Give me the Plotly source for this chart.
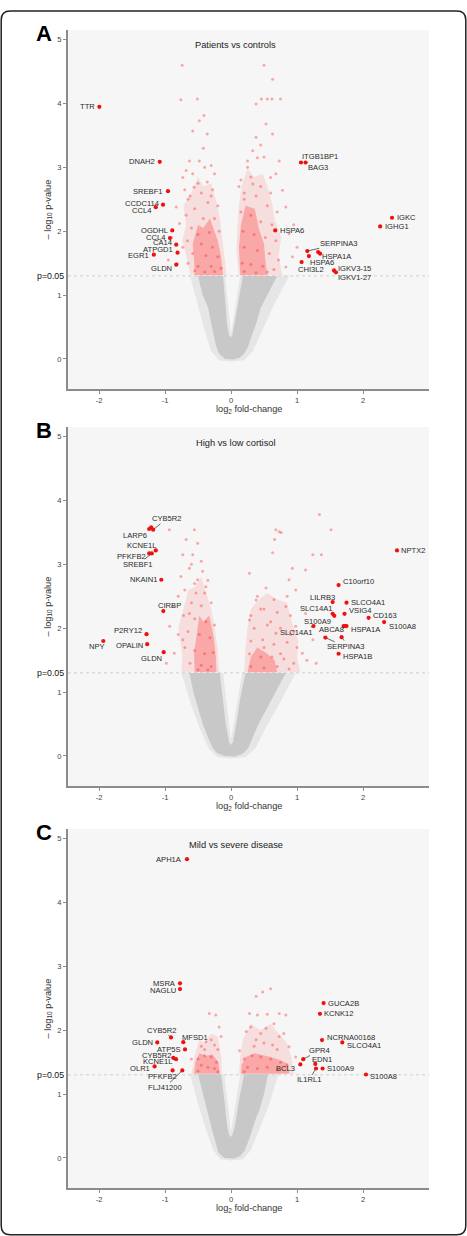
import math
import plotly.graph_objects as go

W, H = 467, 1236
FONT = "Liberation Sans, Arial, sans-serif"

# ----------------------------- DATA -----------------------------
# Panel A: Patients vs controls (labelled genes)
a_genes = ["TTR", "DNAH2", "SREBF1", "CCDC114", "CCL4", "OGDHL", "CCL4", "CA14", "ATPGD1", "EGR1", "GLDN",
           "HSPA6", "ITGB1BP1", "BAG3", "IGKC", "IGHG1", "SERPINA3", "HSPA1A", "HSPA1A", "HSPA6", "CHI3L2",
           "IGKV3-15", "IGKV1-27"]
a_lfc = [-1.995, -1.08, -0.955, -1.03, -1.14, -0.89, -0.925, -0.83, -0.81, -1.17, -0.83,
         0.67, 1.06, 1.13, 2.44, 2.26, 1.156, 1.32, 1.35, 1.18, 1.07, 1.56, 1.59]
a_logp = [3.947, 3.087, 2.627, 2.415, 2.377, 2.013, 1.892, 1.789, 1.664, 1.633, 1.476,
          2.013, 3.076, 3.076, 2.211, 2.075, 1.689, 1.673, 1.648, 1.611, 1.517, 1.387, 1.356]
# Panel A: other significant genes
a_sig_x = [-0.74, -0.76, -0.51, -0.41, -0.48, -0.58, -0.36, -0.63, -0.48, -0.30, -0.73, -0.36, -0.56, -0.83,
           -0.78, -0.73, -0.81, -0.68, -0.42, -0.25, -0.65, -0.30, -0.90, -0.95,
           -0.62, -0.45, -0.35, -0.55, -0.68, -0.42, -0.25, -0.60, -0.50, -0.33, -0.18, -0.66, -0.45, -0.28,
           -0.58, -0.38, -0.20, -0.65, -0.50, -0.30, -0.15, -0.55, -0.40, -0.25, -0.70, -0.50, -0.28, -0.40,
           -0.58, -0.20,
           0.50, 0.63, 0.46, 0.55, 0.62, 0.75, 0.38, 0.53, 0.38, 0.63, 0.33, 0.73, 0.50, 0.60, 0.33, 0.78,
           0.83, 0.88, 0.93, 0.83, 0.25, 0.45, 0.68, 0.20, 0.95, 1.00,
           0.15, 0.30, 0.45, 0.60, 0.20, 0.38, 0.55, 0.70, 0.15, 0.30, 0.45, 0.62, 0.18, 0.35, 0.52, 0.68,
           0.20, 0.40, 0.58, 0.72, 0.17, 0.30, 0.48, 0.65, 0.20, 0.38, 0.55, 0.25, 0.40, 0.12]
a_sig_y = [4.60, 4.06, 4.07, 3.81, 3.73, 3.57, 3.52, 3.10, 3.10, 3.03, 2.84, 2.77, 2.69, 2.38,
           2.12, 1.75, 1.49, 2.95, 3.30, 2.90, 2.50, 2.55, 1.90, 1.55,
           2.55, 2.60, 2.45, 2.35, 2.25, 2.20, 2.20, 2.05, 1.95, 1.98, 2.00, 1.85, 1.80, 1.75,
           1.65, 1.62, 1.60, 1.50, 1.45, 1.45, 1.42, 1.38, 1.36, 1.37, 2.65, 2.75, 2.65, 3.00,
           2.90, 2.40,
           4.60, 4.38, 4.07, 4.07, 4.07, 4.07, 3.99, 3.68, 3.47, 3.52, 3.26, 3.10, 3.16, 2.84, 2.74, 2.64,
           2.38, 1.96, 1.60, 1.44, 3.00, 3.35, 2.90, 2.60, 2.10, 1.75,
           2.80, 2.85, 2.70, 2.60, 2.50, 2.55, 2.40, 2.30, 2.30, 2.25, 2.15, 2.10, 2.00, 1.95, 1.90, 1.85,
           1.75, 1.70, 1.65, 1.55, 1.50, 1.48, 1.45, 1.40, 1.37, 1.35, 1.36, 3.10, 3.15, 2.70]
# Panel A: outlines of the dense clouds
a_ns_x = [-0.50, -0.43, -0.35, -0.30, -0.27, -0.23, -0.18, -0.09, 0.04, 0.13, 0.20, 0.26, 0.32, 0.38, 0.45, 0.55,
          0.65, 0.70, 0.18, 0.12, 0.06, 0.02, 0.00, -0.03, -0.06, -0.09, -0.12]
a_ns_y = [1.30, 1.00, 0.81, 0.55, 0.40, 0.22, 0.08, 0.00, -0.01, 0.02, 0.08, 0.20, 0.38, 0.55, 0.80, 1.00,
          1.20, 1.30, 1.30, 0.95, 0.55, 0.37, 0.34, 0.37, 0.55, 0.95, 1.30]
a_halo_x = [-0.62, -0.50, -0.40, -0.30, -0.18, 0.00, 0.20, 0.33, 0.48, 0.65, 0.88, 0.14, 0.00, -0.09]
a_halo_y = [1.30, 0.85, 0.45, 0.12, -0.02, -0.04, -0.02, 0.12, 0.45, 0.85, 1.30, 1.30, 0.40, 1.30]
a_redL_x = [-0.62, -0.07, -0.10, -0.14, -0.17, -0.22, -0.30, -0.42, -0.50, -0.60, -0.72, -0.68, -0.74, -0.66]
a_redL_y = [1.31, 1.31, 1.60, 1.90, 2.20, 2.45, 2.75, 2.70, 2.85, 2.60, 2.40, 2.10, 1.85, 1.55]
a_redR_x = [0.12, 0.78, 0.72, 0.76, 0.66, 0.62, 0.55, 0.48, 0.35, 0.25, 0.16, 0.12, 0.10, 0.08]
a_redR_y = [1.31, 1.31, 1.60, 1.90, 2.20, 2.45, 2.70, 2.90, 2.85, 2.98, 2.70, 2.40, 2.10, 1.70]
a_coreL_x = [-0.55, -0.12, -0.15, -0.20, -0.32, -0.42, -0.50, -0.58, -0.56]
a_coreL_y = [1.31, 1.31, 1.60, 1.85, 2.20, 2.05, 2.10, 1.80, 1.55]
a_coreR_x = [0.14, 0.55, 0.52, 0.50, 0.42, 0.36, 0.22, 0.15, 0.12]
a_coreR_y = [1.31, 1.31, 1.55, 1.80, 2.05, 2.35, 2.40, 2.10, 1.75]

# Panel B: High vs low cortisol
b_genes = ["CYB5R2", "LARP6", "CYB5R2", "KCNE1L", "PFKFB2", "SREBF1", "NKAIN1", "CIRBP", "P2RY12", "NPY",
           "OPALIN", "GLDN", "NPTX2", "C10orf10", "LILRB3", "SLCO4A1", "VSIG4", "SLC14A1", "S100A9", "CD163",
           "S100A8", "SLC14A1", "ABCA8", "HSPA1A", "HSPA1A", "SERPINA3", "SERPINA3", "HSPA1B"]
b_lfc = [-1.18, -1.24, -1.21, -1.14, -1.24, -1.20, -1.056, -1.026, -1.28, -1.935, -1.27, -1.02,
         2.515, 1.63, 1.54, 1.75, 1.72, 1.54, 1.565, 2.085, 2.32, 1.25, 1.706, 1.73, 1.75, 1.43, 1.676, 1.63]
b_logp = [3.542, 3.553, 3.578, 3.218, 3.171, 3.171, 2.759, 2.268, 1.907, 1.80, 1.75, 1.625,
          3.218, 2.675, 2.41, 2.40, 2.226, 2.226, 2.194, 2.163, 2.096, 2.033, 2.033, 2.033, 2.033, 1.854, 1.86, 1.60]
b_sig_x = [-0.935, -0.555, -0.68, -0.505, -0.73, -0.58, -0.63, -0.43, -0.76, -0.505, -0.38, -0.88, -0.53, -0.63,
           -0.93, -0.73, -0.86, -0.45, -0.80, -0.98,
           -0.70, -0.55, -0.40, -0.60, -0.45, -0.30, -0.72, -0.55, -0.38, -0.25, -0.65, -0.48, -0.32, -0.70,
           -0.55, -0.40, -0.27, -0.62, -0.45, -0.30, -0.50, -0.35, -0.80, -0.60, -0.35,
           1.34, 1.515, 0.73, 0.66, 0.63, 1.24, 1.37, 0.93, 1.13, 0.28, 0.88, 0.53, 0.98, 0.38, 0.83, 1.13,
           0.28, 0.98, 0.68, 1.24, 1.08, 1.29, 0.68, 0.76, 0.45, 0.60, 0.90, 0.50, 0.75, 1.15,
           0.30, 0.50, 0.70, 0.90, 0.35, 0.55, 0.75, 0.95, 0.30, 0.48, 0.65, 0.85, 1.00, 0.28, 0.45, 0.62,
           0.80, 0.95, 0.30, 0.50, 0.70, 0.88, 0.40, 0.65, 0.85]
b_sig_y = [3.54, 3.54, 3.39, 3.33, 3.15, 3.15, 2.94, 2.89, 2.81, 2.76, 2.65, 2.34, 2.55, 2.23,
           2.03, 1.82, 1.61, 3.05, 2.50, 1.45,
           2.60, 2.70, 2.55, 2.40, 2.35, 2.40, 2.20, 2.15, 2.10, 2.05, 1.95, 1.90, 1.85, 1.70,
           1.65, 1.60, 1.62, 1.45, 1.42, 1.40, 1.35, 1.35, 1.90, 3.00, 2.75,
           3.78, 3.54, 3.51, 3.39, 3.18, 3.15, 3.15, 2.94, 2.91, 2.86, 2.76, 2.63, 2.60, 2.44, 2.34, 2.23,
           2.13, 2.03, 1.92, 1.82, 1.61, 1.45, 3.54, 3.50, 2.30, 2.10, 1.90, 1.70, 1.60, 1.50,
           2.20, 2.30, 2.25, 2.20, 2.00, 2.05, 2.00, 1.95, 1.80, 1.82, 1.75, 1.78, 1.70, 1.60, 1.55, 1.55,
           1.52, 1.45, 1.40, 1.38, 1.40, 1.36, 2.50, 2.45, 2.50]
b_ns_x = [-0.63, -0.57, -0.50, -0.43, -0.36, -0.29, -0.22, -0.10, 0.05, 0.17, 0.26, 0.33, 0.42, 0.52, 0.63, 0.74,
          0.83, 0.22, 0.14, 0.08, 0.03, 0.00, -0.03, -0.08, -0.12, -0.17]
b_ns_y = [1.30, 1.00, 0.75, 0.51, 0.32, 0.15, 0.05, 0.00, -0.01, 0.03, 0.12, 0.28, 0.51, 0.70, 0.92, 1.12,
          1.30, 1.30, 0.90, 0.50, 0.22, 0.17, 0.22, 0.50, 0.90, 1.30]
b_halo_x = [-0.75, -0.62, -0.48, -0.34, -0.20, 0.00, 0.22, 0.37, 0.53, 0.75, 0.98, 0.17, 0.00, -0.12]
b_halo_y = [1.30, 0.85, 0.45, 0.12, -0.02, -0.04, -0.02, 0.12, 0.45, 0.85, 1.30, 1.30, 0.25, 1.30]
b_redL_x = [-0.75, -0.18, -0.20, -0.24, -0.30, -0.38, -0.45, -0.55, -0.65, -0.72, -0.80, -0.74]
b_redL_y = [1.31, 1.31, 1.65, 1.95, 2.30, 2.55, 2.80, 2.65, 2.60, 2.30, 2.00, 1.60]
b_redR_x = [0.20, 1.05, 1.00, 1.02, 0.92, 0.85, 0.70, 0.55, 0.42, 0.30, 0.25, 0.22]
b_redR_y = [1.31, 1.31, 1.55, 1.80, 2.10, 2.40, 2.45, 2.55, 2.45, 2.30, 2.00, 1.70]
b_coreL_x = [-0.55, -0.22, -0.23, -0.26, -0.33, -0.42, -0.48, -0.52, -0.56]
b_coreL_y = [1.31, 1.31, 1.55, 1.85, 2.20, 2.10, 2.20, 1.90, 1.60]
b_coreR_x = [0.25, 0.70, 0.66, 0.55, 0.40, 0.30]
b_coreR_y = [1.31, 1.31, 1.50, 1.60, 1.70, 1.55]

# Panel C: Mild vs severe disease
c_genes = ["APH1A", "MSRA", "NAGLU", "CYB5R2", "GLDN", "MFSD1", "ATP5S", "CYB5R2", "KCNE1L", "OLR1", "PFKFB2",
           "FLJ41200", "GUCA2B", "KCNK12", "NCRNA00168", "SLCO4A1", "GPR4", "BCL3", "EDN1", "IL1RL1", "S100A9",
           "S100A8"]
c_lfc = [-0.667, -0.773, -0.773, -0.909, -1.117, -0.723, -0.697, -0.874, -0.833, -1.158, -0.885, -0.738,
         1.403, 1.348, 1.379, 1.686, 1.095, 1.05, 1.277, 1.288, 1.388, 2.045]
c_logp = [4.677, 2.734, 2.644, 1.887, 1.809, 1.813, 1.699, 1.567, 1.547, 1.433, 1.370, 1.370,
          2.425, 2.257, 1.845, 1.809, 1.547, 1.464, 1.473, 1.401, 1.401, 1.307]
c_sig_x = [-0.33, -0.23, -0.18, -0.38, -0.25, -0.45, -0.60, -0.15,
           -0.50, -0.40, -0.30, -0.22, -0.45, -0.35, -0.25, -0.50, -0.20, -0.40, -0.30, -0.20,
           0.28, 0.40, 0.73, 0.83, 0.48, 0.60, 0.38, 0.23, 0.53, 0.73, 0.88, 0.38, 0.63, 0.98, 0.13, 0.30,
           0.65, 0.45,
           0.20, 0.32, 0.45, 0.60, 0.75, 0.85, 0.25, 0.40, 0.55, 0.70, 0.20, 0.50, 0.70, 0.35, 0.80, 0.55]
c_sig_y = [2.26, 2.24, 2.05, 1.82, 1.77, 1.75, 1.55, 1.90,
           1.55, 1.60, 1.58, 1.50, 1.45, 1.42, 1.40, 1.36, 1.35, 1.70, 1.85, 1.70,
           2.26, 2.24, 2.26, 2.24, 2.60, 2.65, 2.53, 1.98, 2.03, 1.90, 1.74, 1.85, 1.77, 1.58, 1.68, 2.05,
           2.10, 1.95,
           1.55, 1.60, 1.58, 1.55, 1.50, 1.45, 1.42, 1.40, 1.42, 1.38, 1.35, 1.80, 1.70, 1.75, 1.95, 2.25]
c_ns_x = [-0.50, -0.42, -0.35, -0.29, -0.24, -0.19, -0.10, 0.04, 0.14, 0.21, 0.27, 0.32, 0.37, 0.43, 0.50, 0.56,
          0.20, 0.12, 0.06, 0.02, 0.00, -0.03, -0.06, -0.10, -0.15]
c_ns_y = [1.31, 1.00, 0.70, 0.45, 0.25, 0.08, 0.00, -0.01, 0.03, 0.12, 0.28, 0.45, 0.60, 0.75, 1.00, 1.31,
          1.31, 0.90, 0.50, 0.36, 0.33, 0.36, 0.50, 0.90, 1.31]
c_halo_x = [-0.62, -0.50, -0.38, -0.27, -0.16, 0.00, 0.18, 0.30, 0.43, 0.58, 0.72, 0.14, 0.00, -0.10]
c_halo_y = [1.31, 0.85, 0.45, 0.12, -0.02, -0.04, -0.02, 0.12, 0.45, 0.85, 1.31, 1.31, 0.40, 1.31]
c_redL_x = [-0.60, -0.14, -0.15, -0.20, -0.30, -0.40, -0.48, -0.55]
c_redL_y = [1.32, 1.32, 1.60, 1.90, 1.95, 1.80, 1.85, 1.60]
c_redR_x = [0.12, 0.95, 0.92, 0.85, 0.72, 0.60, 0.45, 0.30, 0.18, 0.14]
c_redR_y = [1.32, 1.32, 1.55, 1.80, 1.95, 2.10, 2.00, 2.10, 1.85, 1.60]
c_coreL_x = [-0.56, -0.17, -0.19, -0.28, -0.38, -0.48, -0.54]
c_coreL_y = [1.32, 1.32, 1.50, 1.62, 1.60, 1.64, 1.50]
c_coreR_x = [0.15, 0.88, 0.86, 0.70, 0.52, 0.36, 0.22, 0.16]
c_coreR_y = [1.32, 1.32, 1.48, 1.55, 1.60, 1.64, 1.58, 1.45]

x_ticks = [-2, -1, 0, 1, 2]
x_ticktext = ["-2", "-1", "0", "1", "2"]
y_ticks = [0, 1, 2, 3, 4, 5]
p_threshold = 0.05
panel_titles = ["Patients vs controls", "High vs low cortisol", "Mild vs severe disease"]
panel_letters = ["A", "B", "C"]

# ------------------------- LABEL PLACEMENT (pixels) -------------------------
# ("l", dy): label left of dot; ("r", dy): right of dot; ("c", dx, dy): centred offset;
# ("a", dx, dy[, text]): offset with connector line; None: no label
a_place = [("l", 0), ("l", 0), ("l", 0), ("l", -1.5), ("l", 3), ("l", 0), ("l", -1), ("l", -2), ("l", -3),
           ("l", 0.5), ("l", 4), ("r", 0), ("c", 19.3, -6), ("c", 12.5, 4.7), ("r", 0), ("r", 0),
           ("a", 31.5, -7.4), ("c", 18.8, 4.0), None, ("c", 13.3, 6.0), ("c", 9.4, 7.6), ("r", -2.3),
           ("c", 18.5, 5.3)]
b_place = [("a", 13.5, -11), ("c", -14.5, 6), None, ("c", -13.7, -4.7), ("c", -17.2, 3), ("a", -13.5, 10.6),
           ("l", 0), ("c", 6.5, -5.6), ("l", -3.3), ("c", -6.3, 5.7), ("l", 1.4), ("c", -12, 6),
           ("r", 0), ("r", -3.6), ("c", -10.6, -5), ("r", 0), ("r", -3), ("c", -15.8, -5), ("c", -16.5, 6),
           ("r", -2), ("r", 4), ("a", -16.8, 6), ("c", -12, 3.7), None, ("r", 3.7), ("a", 20.3, 9.3),
           ("a", 4, 5.5, " "), ("r", 3)]
c_place = [("l", 0), ("l", 0), ("l", 1), ("a", -8.7, -7.3), ("l", 0), ("c", 11.5, -4.7), ("l", 0),
           ("c", -16.5, -2.6), ("a", -17.9, 2.6), ("l", 1.7), ("c", -10, 6.4), ("a", -17.5, 17),
           ("r", 0), ("r", 0), ("r", -2.6), ("r", 2.6), ("a", 16, -8.7), ("c", -15, 4.4), ("c", 6.5, -4.7),
           ("a", -6.9, 11.4), ("r", 0), ("r", 2)]

# ------------------------------ LAYOUT GEOMETRY ------------------------------
x_dom = [68 / W, 429 / W]
px_top = [30, 427, 829]
px_bot = [389, 786, 1188]
y_doms = [[1 - b / H, 1 - t / H] for t, b in zip(px_top, px_bot)]
X_RANGE = [-2.47, 3.0]
Y_RANGE = [-0.47, 5.15]

panels = [
    dict(genes=a_genes, x=a_lfc, y=a_logp, sx=a_sig_x, sy=a_sig_y, nsx=a_ns_x, nsy=a_ns_y,
         hx=a_halo_x, hy=a_halo_y, rl=(a_redL_x, a_redL_y), rr=(a_redR_x, a_redR_y),
         cl=(a_coreL_x, a_coreL_y), cr=(a_coreR_x, a_coreR_y), place=a_place),
    dict(genes=b_genes, x=b_lfc, y=b_logp, sx=b_sig_x, sy=b_sig_y, nsx=b_ns_x, nsy=b_ns_y,
         hx=b_halo_x, hy=b_halo_y, rl=(b_redL_x, b_redL_y), rr=(b_redR_x, b_redR_y),
         cl=(b_coreL_x, b_coreL_y), cr=(b_coreR_x, b_coreR_y), place=b_place),
    dict(genes=c_genes, x=c_lfc, y=c_logp, sx=c_sig_x, sy=c_sig_y, nsx=c_ns_x, nsy=c_ns_y,
         hx=c_halo_x, hy=c_halo_y, rl=(c_redL_x, c_redL_y), rr=(c_redR_x, c_redR_y),
         cl=(c_coreL_x, c_coreL_y), cr=(c_coreR_x, c_coreR_y), place=c_place),
]

fig = go.Figure()
annotations = []
shapes = []
LABEL_FONT = dict(family=FONT, size=7.6, color="#2a2a2a")
p_line = -math.log10(p_threshold)

for i, P in enumerate(panels):
    sfx = "" if i == 0 else str(i + 1)
    xr, yr = "x" + sfx, "y" + sfx

    def poly(xs, ys, color):
        fig.add_trace(go.Scatter(x=xs + [xs[0]], y=ys + [ys[0]], mode="lines", fill="toself",
                                 fillcolor=color, line=dict(width=0), hoverinfo="skip",
                                 showlegend=False, xaxis=xr, yaxis=yr))

    poly(P["hx"], P["hy"], "rgba(200,200,200,0.35)")
    poly(P["nsx"], P["nsy"], "rgba(198,198,198,0.95)")
    poly(P["rl"][0], P["rl"][1], "rgba(255,60,60,0.13)")
    poly(P["rr"][0], P["rr"][1], "rgba(255,60,60,0.13)")
    poly(P["cl"][0], P["cl"][1], "rgba(255,25,25,0.28)")
    poly(P["cr"][0], P["cr"][1], "rgba(255,25,25,0.28)")

    fig.add_trace(go.Scatter(x=P["sx"], y=P["sy"], mode="markers",
                             marker=dict(size=3, color="rgba(255,40,40,0.38)", line=dict(width=0)),
                             hoverinfo="skip", showlegend=False, xaxis=xr, yaxis=yr))
    fig.add_trace(go.Scatter(x=P["x"], y=P["y"], mode="markers", text=P["genes"],
                             marker=dict(size=4.2, color="#f01010", line=dict(width=0)),
                             showlegend=False, xaxis=xr, yaxis=yr))

    for g, gx, gy, pl in zip(P["genes"], P["x"], P["y"], P["place"]):
        if pl is None:
            continue
        kind = pl[0]
        base = dict(x=gx, y=gy, xref=xr, yref=yr, font=LABEL_FONT)
        if kind == "l":
            base.update(text=g, showarrow=False, xanchor="right", yanchor="middle", xshift=-2.5, yshift=-pl[1])
        elif kind == "r":
            base.update(text=g, showarrow=False, xanchor="left", yanchor="middle", xshift=2.5, yshift=-pl[1])
        elif kind == "c":
            base.update(text=g, showarrow=False, xanchor="center", yanchor="middle", xshift=pl[1], yshift=-pl[2])
        else:
            txt = pl[3] if len(pl) > 3 else g
            base.update(text=txt, showarrow=True, ax=pl[1], ay=pl[2], axref="pixel", ayref="pixel",
                        arrowhead=0, arrowwidth=0.8, arrowcolor="#444444", standoff=1.5, borderpad=0)
        annotations.append(base)

    # p = 0.05 reference line
    shapes.append(dict(type="line", xref=xr + " domain", yref=yr, x0=0, x1=1, y0=p_line, y1=p_line,
                       line=dict(color="#cfcfcf", width=1, dash="dot"), layer="below"))
    annotations.append(dict(x=66 / W, y=p_line, xref="paper", yref=yr, text="p=0.05", showarrow=False,
                            xanchor="right", yanchor="middle", font=dict(family=FONT, size=8.8, color="#111111")))

    top, bot = px_top[i], px_bot[i]
    annotations.append(dict(x=(68 + 429) / 2 / W - 0.027, y=1 - (top + 15.5) / H, xref="paper", yref="paper",
                            text=panel_titles[i], showarrow=False, xanchor="center", yanchor="middle",
                            font=dict(family=FONT, size=9.3, color="#222222")))
    annotations.append(dict(x=44 / W, y=1 - (top + 3.5) / H, xref="paper", yref="paper",
                            text="<b>" + panel_letters[i] + "</b>", showarrow=False, xanchor="center",
                            yanchor="middle", font=dict(family=FONT, size=22, color="#000000")))
    annotations.append(dict(x=48 / W, y=1 - (top + bot) / 2 / H, xref="paper", yref="paper",
                            text="– log<sub>10</sub> p-value", showarrow=False, textangle=-90,
                            xanchor="center", yanchor="middle", font=dict(family=FONT, size=9.2, color="#333333")))
    annotations.append(dict(x=248.5 / W, y=1 - (bot + 20) / H, xref="paper", yref="paper",
                            text="log<sub>2</sub> fold-change", showarrow=False, xanchor="center",
                            yanchor="middle", font=dict(family=FONT, size=9.2, color="#333333")))

    axis_style = dict(showgrid=False, zeroline=False, showline=True, linecolor="#8c8c8c", linewidth=2,
                      ticks="outside", ticklen=3, tickwidth=1, tickcolor="#8c8c8c",
                      tickfont=dict(family=FONT, size=7.6, color="#444444"), fixedrange=True)
    fig.update_layout(**{
        "xaxis" + sfx: dict(domain=x_dom, range=X_RANGE, tickvals=x_ticks, ticktext=x_ticktext,
                            anchor=yr, **axis_style),
        "yaxis" + sfx: dict(domain=y_doms[i], range=Y_RANGE, tickvals=y_ticks, anchor=xr, **axis_style),
    })

# rounded outer frame
x0, x1 = 1.2 / W, 465.8 / W
yt, yb = 1 - 11 / H, 1 - 1234.8 / H
rx, ry = 9 / W, 9 / H
path = (f"M {x0+rx},{yt} L {x1-rx},{yt} Q {x1},{yt} {x1},{yt-ry} L {x1},{yb+ry} Q {x1},{yb} {x1-rx},{yb} "
        f"L {x0+rx},{yb} Q {x0},{yb} {x0},{yb+ry} L {x0},{yt-ry} Q {x0},{yt} {x0+rx},{yt} Z")
shapes.append(dict(type="path", xref="paper", yref="paper", path=path, line=dict(color="#222222", width=1.5)))

fig.update_layout(width=W, height=H, margin=dict(l=0, r=0, t=0, b=0),
                  paper_bgcolor="white", plot_bgcolor="#f6f6f6",
                  annotations=annotations, shapes=shapes, showlegend=False,
                  font=dict(family=FONT))

fig.write_html("out.html")
